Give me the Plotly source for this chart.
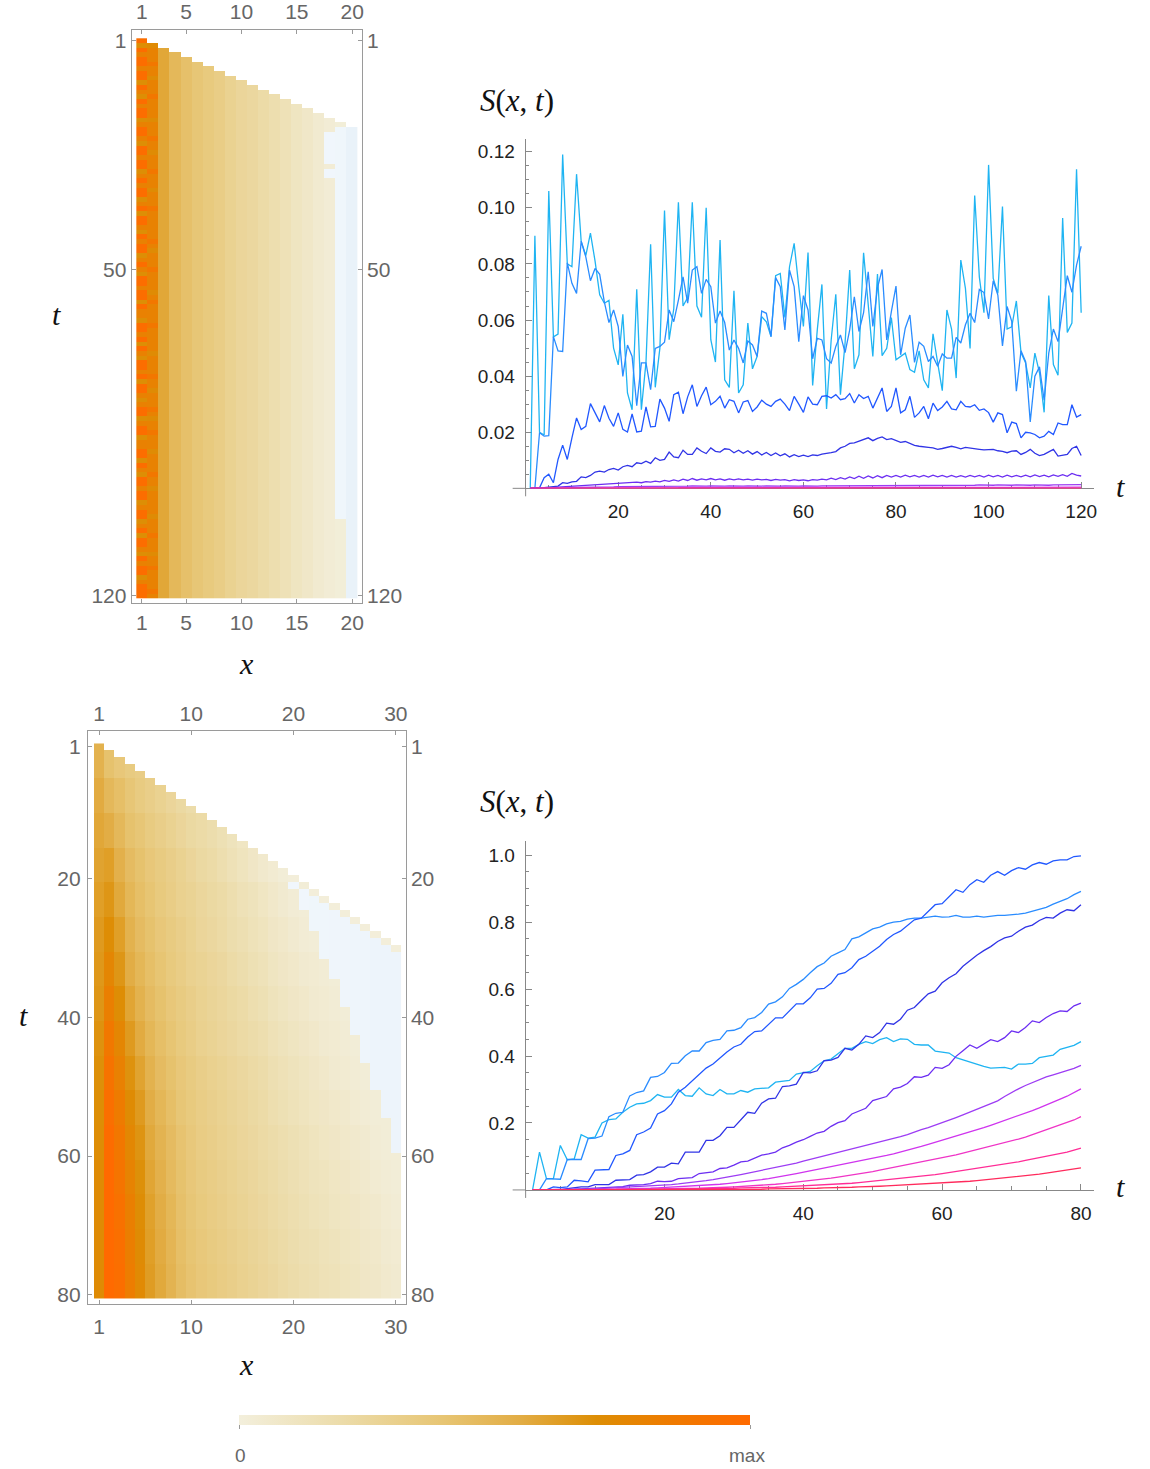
import plotly.graph_objects as go

W, H = 1150, 1469


def fx(p):
    return p / W


def fy(p):
    return 1 - p / H


# ------------------------------------------------------------------ data
# Heatmap 1 : x = 1..20, t = 1..120
HM1_X = list(range(1, 21))
HM1_T = list(range(1, 121))
HM1_FIRST_ROW = [1, 2, 3, 4, 5, 6, 7, 8, 9, 10, 11, 12, 13, 14, 15, 16, 17, 18, 19, 20]
HM1_LEVEL = [None, None, 0.58, 0.48, 0.43, 0.39, 0.36, 0.33, 0.29, 0.26,
             0.24, 0.21, 0.18, 0.15, 0.11, 0.08, 0.05, 0.03, 0.015, 0.01]
HM1_COL1 = ("ogodoodoog" "odgodoogdo" "odgoodoogd" "odoogdogoo" "dgodoogdod" "goodoogodd"
            "goodogodgo" "odogoodgdo" "ogdoogddoo" "godgoodoog" "doogdogood" "godoogdooo")
HM1_COL1_VAL = {"o": 0.97, "d": 0.80, "g": 0.70}
HM1_COL2 = ("dgdddoddgd" "ddoddddgdd" "doddgdddod" "ddgdddoddd" "dddodgdddo" "ddddgdoddd"
            "dodddddgdd" "ddoddgdddo" "dgddodddgd" "dddoddgddd" "ddgdddoddd" "gddoddddod")
HM1_COL2_VAL = {"o": 0.88, "d": 0.79, "g": 0.72}
# (column, first t, last t, shade) of the pale blue cells
HM1_BLUE = [(18, 21, 27, 0.3), (18, 29, 30, 0.3), (19, 20, 103, 0.35), (20, 20, 120, 0.75)]

# Heatmap 2 : x = 1..30, t = 1..80 ; one list per column, one value per 5-row band
HM2_X = list(range(1, 31))
HM2_T = list(range(1, 81))
HM2_FIRST_ROW = [1, 2, 3, 4, 5, 6, 7, 8, 9, 10, 11, 12, 13, 14, 15,
                 16, 17, 18, 19, 20, 21, 22, 23, 24, 25, 26, 27, 28, 29, 30]
HM2_BAND_ROWS = 5
HM2_COLS = [
    [0.52, 0.56, 0.58, 0.60, 0.62, 0.64, 0.65, 0.66, 0.68, 0.69, 0.70, 0.71, 0.72, 0.72, 0.72, 0.72],
    [0.42, 0.48, 0.55, 0.62, 0.66, 0.71, 0.76, 0.81, 0.87, 0.92, 0.95, 0.98, 1.00, 1.00, 1.00, 1.00],
    [0.38, 0.44, 0.48, 0.53, 0.57, 0.62, 0.66, 0.71, 0.76, 0.80, 0.84, 0.88, 0.91, 0.93, 0.95, 0.96],
    [0.35, 0.39, 0.42, 0.46, 0.49, 0.52, 0.55, 0.59, 0.64, 0.68, 0.72, 0.75, 0.78, 0.81, 0.82, 0.83],
    [0.33, 0.35, 0.39, 0.42, 0.44, 0.46, 0.49, 0.52, 0.56, 0.60, 0.64, 0.67, 0.69, 0.71, 0.72, 0.73],
    [0.30, 0.32, 0.35, 0.38, 0.40, 0.42, 0.44, 0.46, 0.49, 0.52, 0.55, 0.57, 0.59, 0.61, 0.62, 0.63],
    [0.27, 0.29, 0.32, 0.35, 0.36, 0.38, 0.40, 0.42, 0.44, 0.46, 0.49, 0.51, 0.53, 0.55, 0.56, 0.57],
    [0.25, 0.26, 0.29, 0.32, 0.33, 0.35, 0.36, 0.38, 0.40, 0.42, 0.44, 0.46, 0.47, 0.49, 0.50, 0.51],
    [0.22, 0.23, 0.26, 0.29, 0.30, 0.32, 0.33, 0.35, 0.36, 0.38, 0.39, 0.41, 0.42, 0.43, 0.44, 0.45],
    [0.00, 0.20, 0.23, 0.26, 0.28, 0.29, 0.30, 0.32, 0.33, 0.35, 0.36, 0.37, 0.38, 0.39, 0.40, 0.41],
    [0.00, 0.00, 0.21, 0.23, 0.25, 0.26, 0.28, 0.29, 0.30, 0.32, 0.33, 0.34, 0.35, 0.36, 0.37, 0.38],
    [0.00, 0.00, 0.19, 0.21, 0.23, 0.24, 0.26, 0.27, 0.28, 0.30, 0.31, 0.32, 0.33, 0.34, 0.35, 0.36],
    [0.00, 0.00, 0.16, 0.18, 0.21, 0.22, 0.24, 0.25, 0.26, 0.28, 0.29, 0.30, 0.31, 0.32, 0.33, 0.34],
    [0.00, 0.00, 0.13, 0.15, 0.18, 0.19, 0.21, 0.23, 0.24, 0.26, 0.27, 0.28, 0.29, 0.30, 0.31, 0.32],
    [0.00, 0.00, 0.10, 0.12, 0.15, 0.17, 0.19, 0.21, 0.22, 0.24, 0.25, 0.26, 0.27, 0.28, 0.29, 0.30],
    [0.00, 0.00, 0.00, 0.09, 0.13, 0.14, 0.16, 0.18, 0.20, 0.22, 0.23, 0.24, 0.25, 0.26, 0.27, 0.28],
    [0.00, 0.00, 0.00, 0.06, 0.10, 0.12, 0.14, 0.16, 0.18, 0.20, 0.21, 0.22, 0.23, 0.24, 0.25, 0.26],
    [0.00, 0.00, 0.00, 0.04, 0.07, 0.09, 0.11, 0.13, 0.15, 0.17, 0.18, 0.20, 0.21, 0.22, 0.23, 0.24],
    [0.00, 0.00, 0.00, 0.02, 0.05, 0.07, 0.09, 0.11, 0.13, 0.15, 0.16, 0.18, 0.19, 0.20, 0.21, 0.22],
    [0.00, 0.00, 0.00, 0.01, 0.03, 0.05, 0.07, 0.09, 0.11, 0.13, 0.14, 0.16, 0.17, 0.18, 0.19, 0.20],
    [0.00, 0.00, 0.00, 0.00, 0.02, 0.03, 0.05, 0.07, 0.09, 0.11, 0.12, 0.14, 0.15, 0.16, 0.17, 0.18],
    [0.00, 0.00, 0.00, 0.00, 0.01, 0.02, 0.04, 0.05, 0.07, 0.09, 0.10, 0.12, 0.13, 0.14, 0.16, 0.17],
    [0.00, 0.00, 0.00, 0.00, 0.01, 0.01, 0.03, 0.04, 0.05, 0.07, 0.09, 0.10, 0.12, 0.13, 0.14, 0.15],
    [0.00, 0.00, 0.00, 0.00, 0.01, 0.01, 0.02, 0.03, 0.04, 0.05, 0.07, 0.09, 0.10, 0.11, 0.13, 0.14],
    [0.00, 0.00, 0.00, 0.00, 0.01, 0.01, 0.01, 0.02, 0.03, 0.04, 0.06, 0.07, 0.09, 0.10, 0.11, 0.12],
    [0.00, 0.00, 0.00, 0.00, 0.00, 0.01, 0.01, 0.01, 0.02, 0.03, 0.04, 0.06, 0.07, 0.09, 0.10, 0.11],
    [0.00, 0.00, 0.00, 0.00, 0.00, 0.01, 0.01, 0.01, 0.02, 0.02, 0.03, 0.05, 0.06, 0.07, 0.08, 0.09],
    [0.00, 0.00, 0.00, 0.00, 0.00, 0.01, 0.01, 0.01, 0.01, 0.02, 0.02, 0.03, 0.04, 0.06, 0.07, 0.08],
    [0.00, 0.00, 0.00, 0.00, 0.00, 0.01, 0.01, 0.01, 0.01, 0.01, 0.02, 0.02, 0.03, 0.04, 0.05, 0.06],
    [0.00, 0.00, 0.00, 0.00, 0.00, 0.01, 0.01, 0.01, 0.01, 0.01, 0.01, 0.02, 0.02, 0.03, 0.04, 0.05],
]
HM2_BLUE = [(20, 21, 21, 0.3), (21, 22, 24, 0.3), (22, 23, 27, 0.35), (23, 24, 31, 0.35),
            (24, 25, 34, 0.4), (25, 26, 38, 0.4), (26, 27, 42, 0.45), (27, 28, 46, 0.45),
            (28, 29, 50, 0.5), (29, 30, 54, 0.5), (30, 31, 59, 0.5)]

# Line chart 1 : S(x,t), t = 1..120, x = 1..10
C1_T = list(range(1, 121))
C1_S1 = [0.000, 0.090, 0.020, 0.019, 0.106, 0.054, 0.055, 0.119, 0.080, 0.079,
         0.112, 0.088, 0.083, 0.091, 0.081, 0.069, 0.066, 0.067, 0.050, 0.044,
         0.062, 0.034, 0.028, 0.071, 0.028, 0.045, 0.087, 0.036, 0.050, 0.099,
         0.053, 0.064, 0.102, 0.065, 0.068, 0.102, 0.065, 0.061, 0.100, 0.053,
         0.045, 0.0885, 0.0387, 0.0360, 0.0704, 0.0340, 0.0369, 0.0589, 0.0426, 0.0470,
         0.0612, 0.0594, 0.0541, 0.0758, 0.0766, 0.0609, 0.0790, 0.0873, 0.0719, 0.0577,
         0.0841, 0.0367, 0.0565, 0.0727, 0.0283, 0.0529, 0.0692, 0.0334, 0.0518, 0.0778,
         0.0426, 0.0476, 0.0840, 0.0660, 0.0470, 0.0764, 0.0473, 0.0499, 0.0609, 0.0458,
         0.0470, 0.0482, 0.0423, 0.0414, 0.0490, 0.0387, 0.0358, 0.0551, 0.0447, 0.0348,
         0.0636, 0.0568, 0.0393, 0.0814, 0.0713, 0.0499, 0.1044, 0.0754, 0.0626, 0.1153,
         0.0748, 0.0695, 0.1005, 0.0568, 0.0576, 0.0668, 0.0484, 0.0447, 0.0358, 0.0482,
         0.0412, 0.0271, 0.0687, 0.0441, 0.0403, 0.0964, 0.0556, 0.0589, 0.1137, 0.0626]
C1_S2 = [0.0, 0.0, 0.0198, 0.0186, 0.0188, 0.0541, 0.0490, 0.0488, 0.0804, 0.0731,
         0.0695, 0.0881, 0.0825, 0.0740, 0.0784, 0.0763, 0.0665, 0.0591, 0.0636, 0.0577,
         0.0399, 0.0511, 0.0470, 0.0295, 0.0447, 0.0447, 0.0352, 0.0499, 0.0506, 0.0521,
         0.0636, 0.0594, 0.0671, 0.0754, 0.0660, 0.0778, 0.0790, 0.0695, 0.0745, 0.0719,
         0.0589, 0.0632, 0.0591, 0.0493, 0.0529, 0.0499, 0.0447, 0.0525, 0.0511, 0.0470,
         0.0632, 0.0624, 0.0541, 0.0751, 0.0719, 0.0565, 0.0778, 0.0719, 0.0523, 0.0687,
         0.0636, 0.0462, 0.0535, 0.0529, 0.0462, 0.0447, 0.0506, 0.0547, 0.0484, 0.0565,
         0.0683, 0.0559, 0.0626, 0.0772, 0.0577, 0.0715, 0.0780, 0.0529, 0.0630, 0.0721,
         0.0476, 0.0571, 0.0618, 0.0449, 0.0521, 0.0506, 0.0452, 0.0470, 0.0435, 0.0479,
         0.0464, 0.0464, 0.0538, 0.0518, 0.0583, 0.0624, 0.0591, 0.0709, 0.0698, 0.0604,
         0.0740, 0.0689, 0.0508, 0.0648, 0.0595, 0.0346, 0.0490, 0.0452, 0.0237, 0.0400,
         0.0433, 0.0314, 0.0482, 0.0568, 0.0523, 0.0648, 0.0758, 0.0699, 0.0796, 0.0863]
C1_S3 = [0.0, 0.0, 0.0002, 0.0038, 0.0050, 0.0020, 0.0103, 0.0154, 0.0103, 0.0180,
         0.0251, 0.0210, 0.0221, 0.0302, 0.0270, 0.0237, 0.0295, 0.0250, 0.0221, 0.0269,
         0.0210, 0.0201, 0.0265, 0.0201, 0.0204, 0.0290, 0.0219, 0.0221, 0.0318, 0.0286,
         0.0239, 0.0334, 0.0343, 0.0266, 0.0326, 0.0369, 0.0292, 0.0330, 0.0361, 0.0298,
         0.0310, 0.0328, 0.0286, 0.0316, 0.0310, 0.0269, 0.0308, 0.0313, 0.0274, 0.0290,
         0.0314, 0.0300, 0.0292, 0.0310, 0.0318, 0.0300, 0.0277, 0.0328, 0.0300, 0.0271,
         0.0326, 0.0300, 0.0298, 0.0328, 0.0330, 0.0322, 0.0334, 0.0316, 0.0320, 0.0338,
         0.0304, 0.0334, 0.0320, 0.0328, 0.0286, 0.0320, 0.0358, 0.0274, 0.0292, 0.0358,
         0.0269, 0.0280, 0.0328, 0.0253, 0.0269, 0.0292, 0.0248, 0.0304, 0.0277, 0.0290,
         0.0310, 0.0283, 0.0280, 0.0310, 0.0292, 0.0290, 0.0298, 0.0278, 0.0283, 0.0270,
         0.0236, 0.0269, 0.0263, 0.0198, 0.0236, 0.0231, 0.0180, 0.0200, 0.0198, 0.0192,
         0.0180, 0.0186, 0.0203, 0.0192, 0.0233, 0.0227, 0.0227, 0.0298, 0.0254, 0.0263]
C1_S4 = [0.0, 0.0, 0.0, 0.0002, 0.0004, 0.0006, 0.0008, 0.0020, 0.0018, 0.0023,
         0.0025, 0.0041, 0.0038, 0.0046, 0.0058, 0.0061, 0.0058, 0.0067, 0.0071, 0.0065,
         0.0077, 0.0082, 0.0077, 0.0091, 0.0088, 0.0097, 0.0089, 0.0109, 0.0100, 0.0103,
         0.0129, 0.0112, 0.0109, 0.0136, 0.0121, 0.0121, 0.0144, 0.0132, 0.0124, 0.0144,
         0.0132, 0.0129, 0.0141, 0.0139, 0.0127, 0.0136, 0.0125, 0.0134, 0.0122, 0.0131,
         0.0119, 0.0128, 0.0117, 0.0126, 0.0116, 0.0123, 0.0112, 0.0120, 0.0113, 0.0118,
         0.0113, 0.0119, 0.0117, 0.0122, 0.0124, 0.0127, 0.0131, 0.0144, 0.0150, 0.0160,
         0.0162, 0.0168, 0.0172, 0.0180, 0.0170, 0.0178, 0.0183, 0.0174, 0.0177, 0.0170,
         0.0164, 0.0167, 0.0160, 0.0153, 0.0150, 0.0147, 0.0146, 0.0144, 0.0139, 0.0142,
         0.0145, 0.0150, 0.0146, 0.0141, 0.0146, 0.0143, 0.0140, 0.0139, 0.0137, 0.0138,
         0.0139, 0.0134, 0.0132, 0.0127, 0.0133, 0.0134, 0.0121, 0.0128, 0.0139, 0.0125,
         0.0117, 0.0121, 0.0130, 0.0139, 0.0115, 0.0118, 0.0121, 0.0142, 0.0150, 0.0117]
C1_S5 = [0.0, 0.0, 0.0, 0.0, 0.0001, 0.0002, 0.0004, 0.0005, 0.0007, 0.0008,
         0.0009, 0.0010, 0.0011, 0.0012, 0.0013, 0.0014, 0.0013, 0.0016, 0.0015, 0.0018,
         0.0017, 0.0020, 0.0019, 0.0022, 0.0020, 0.0024, 0.0022, 0.0026, 0.0023, 0.0028,
         0.0025, 0.0030, 0.0026, 0.0033, 0.0028, 0.0035, 0.0029, 0.0034, 0.0030, 0.0035,
         0.0030, 0.0034, 0.0029, 0.0034, 0.0030, 0.0034, 0.0030, 0.0033, 0.0029, 0.0033,
         0.0030, 0.0032, 0.0028, 0.0032, 0.0029, 0.0031, 0.0027, 0.0031, 0.0028, 0.0030,
         0.0027, 0.0031, 0.0029, 0.0033, 0.0030, 0.0036, 0.0031, 0.0038, 0.0033, 0.0041,
         0.0035, 0.0043, 0.0036, 0.0044, 0.0037, 0.0045, 0.0038, 0.0046, 0.0040, 0.0046,
         0.0040, 0.0047, 0.0041, 0.0046, 0.0040, 0.0046, 0.0040, 0.0047, 0.0041, 0.0046,
         0.0040, 0.0046, 0.0040, 0.0045, 0.0040, 0.0046, 0.0041, 0.0046, 0.0040, 0.0047,
         0.0041, 0.0046, 0.0040, 0.0047, 0.0041, 0.0046, 0.0041, 0.0047, 0.0041, 0.0048,
         0.0042, 0.0047, 0.0041, 0.0048, 0.0043, 0.0049, 0.0043, 0.0053, 0.0047, 0.0044]
C1_S6 = [0, 0, 0, 0, 0, 0, 0.0001, 0.0001, 0.0002, 0.0002,
         0.0003, 0.0003, 0.0003, 0.0004, 0.0004, 0.0004, 0.0005, 0.0005, 0.0005, 0.0006,
         0.0006, 0.0006, 0.0006, 0.0007, 0.0006, 0.0007, 0.0007, 0.0007, 0.0007, 0.0008,
         0.0007, 0.0008, 0.0007, 0.0008, 0.0008, 0.0009, 0.0008, 0.0009, 0.0008, 0.0009,
         0.0008, 0.0009, 0.0008, 0.0009, 0.0008, 0.0009, 0.0008, 0.0009, 0.0008, 0.0009,
         0.0008, 0.0009, 0.0008, 0.0008, 0.0008, 0.0009, 0.0008, 0.0008, 0.0008, 0.0009,
         0.0008, 0.0009, 0.0008, 0.0009, 0.0009, 0.0010, 0.0009, 0.0010, 0.0009, 0.0010,
         0.0010, 0.0011, 0.0010, 0.0011, 0.0010, 0.0011, 0.0010, 0.0011, 0.0010, 0.0011,
         0.0010, 0.0011, 0.0010, 0.0011, 0.0010, 0.0011, 0.0010, 0.0011, 0.0010, 0.0011,
         0.0010, 0.0011, 0.0010, 0.0011, 0.0010, 0.0011, 0.0011, 0.0012, 0.0011, 0.0012,
         0.0011, 0.0012, 0.0011, 0.0012, 0.0011, 0.0012, 0.0011, 0.0012, 0.0011, 0.0012,
         0.0011, 0.0012, 0.0011, 0.0012, 0.0012, 0.0013, 0.0012, 0.0013, 0.0012, 0.0013]
C1_S7 = [0, 0, 0, 0, 0, 0, 0, 0, 0, 0,
         0, 0, 0.0001, 0.0001, 0.0001, 0.0001, 0.0001, 0.0001, 0.0001, 0.0001,
         0.0001, 0.0001, 0.0002, 0.0001, 0.0002, 0.0002, 0.0002, 0.0002, 0.0002, 0.0002,
         0.0002, 0.0002, 0.0002, 0.0003, 0.0002, 0.0003, 0.0002, 0.0003, 0.0002, 0.0003,
         0.0002, 0.0003, 0.0002, 0.0003, 0.0002, 0.0003, 0.0002, 0.0003, 0.0002, 0.0003,
         0.0002, 0.0003, 0.0002, 0.0003, 0.0002, 0.0003, 0.0002, 0.0003, 0.0002, 0.0003,
         0.0003, 0.0003, 0.0003, 0.0003, 0.0003, 0.0003, 0.0003, 0.0003, 0.0003, 0.0003,
         0.0003, 0.0004, 0.0003, 0.0004, 0.0003, 0.0004, 0.0003, 0.0004, 0.0003, 0.0004,
         0.0003, 0.0004, 0.0003, 0.0004, 0.0003, 0.0004, 0.0003, 0.0004, 0.0003, 0.0004,
         0.0003, 0.0004, 0.0003, 0.0004, 0.0003, 0.0004, 0.0003, 0.0004, 0.0003, 0.0004,
         0.0003, 0.0004, 0.0003, 0.0004, 0.0003, 0.0004, 0.0003, 0.0004, 0.0003, 0.0004,
         0.0003, 0.0004, 0.0003, 0.0004, 0.0003, 0.0004, 0.0003, 0.0004, 0.0003, 0.0004]
C1_S8 = [0, 0, 0, 0, 0, 0, 0, 0, 0, 0,
         0, 0, 0, 0, 0, 0, 0, 0, 0, 0,
         0, 0, 0, 0, 0, 0, 0, 0, 0, 0,
         0, 0.0001, 0, 0.0001, 0, 0.0001, 0, 0.0001, 0, 0.0001,
         0, 0.0001, 0, 0.0001, 0, 0.0001, 0, 0.0001, 0, 0.0001,
         0.0001, 0.0001, 0.0001, 0.0001, 0.0001, 0.0001, 0.0001, 0.0001, 0.0001, 0.0001,
         0.0001, 0.0001, 0.0001, 0.0001, 0.0001, 0.0001, 0.0001, 0.0001, 0.0001, 0.0001,
         0.0001, 0.0001, 0.0001, 0.0001, 0.0001, 0.0001, 0.0001, 0.0001, 0.0001, 0.0001,
         0.0001, 0.0001, 0.0001, 0.0001, 0.0001, 0.0001, 0.0001, 0.0001, 0.0001, 0.0001,
         0.0001, 0.0001, 0.0001, 0.0001, 0.0001, 0.0001, 0.0001, 0.0001, 0.0001, 0.0001,
         0.0001, 0.0001, 0.0001, 0.0001, 0.0001, 0.0001, 0.0001, 0.0001, 0.0001, 0.0001,
         0.0001, 0.0001, 0.0001, 0.0001, 0.0001, 0.0001, 0.0001, 0.0001, 0.0001, 0.0001]
C1_S9 = [0, 0, 0, 0, 0, 0, 0, 0, 0, 0, 0, 0, 0, 0, 0, 0, 0, 0, 0, 0,
         0, 0, 0, 0, 0, 0, 0, 0, 0, 0, 0, 0, 0, 0, 0, 0, 0, 0, 0, 0,
         0, 0, 0, 0, 0, 0, 0, 0, 0, 0, 0, 0, 0, 0, 0, 0, 0, 0, 0, 0,
         0, 0, 0, 0, 0, 0, 0, 0, 0, 0, 0, 0, 0, 0, 0, 0, 0, 0, 0, 0,
         0, 0, 0, 0, 0, 0, 0, 0, 0, 0, 0, 0, 0, 0, 0, 0, 0, 0, 0, 0,
         0, 0, 0, 0, 0, 0, 0, 0, 0, 0, 0, 0, 0, 0, 0, 0, 0, 0, 0, 0]
C1_S10 = [0, 0, 0, 0, 0, 0, 0, 0, 0, 0, 0, 0, 0, 0, 0, 0, 0, 0, 0, 0,
          0, 0, 0, 0, 0, 0, 0, 0, 0, 0, 0, 0, 0, 0, 0, 0, 0, 0, 0, 0,
          0, 0, 0, 0, 0, 0, 0, 0, 0, 0, 0, 0, 0, 0, 0, 0, 0, 0, 0, 0,
          0, 0, 0, 0, 0, 0, 0, 0, 0, 0, 0, 0, 0, 0, 0, 0, 0, 0, 0, 0,
          0, 0, 0, 0, 0, 0, 0, 0, 0, 0, 0, 0, 0, 0, 0, 0, 0, 0, 0, 0,
          0, 0, 0, 0, 0, 0, 0, 0, 0, 0, 0, 0, 0, 0, 0, 0, 0, 0, 0, 0]

# Line chart 2 : S(x,t), t = 1..80, x = 1..10
C2_T = list(range(1, 81))
C2_S1 = [0, 0.113, 0.034, 0.034, 0.133, 0.090, 0.093, 0.165, 0.155, 0.158,
         0.200, 0.210, 0.212, 0.232, 0.247, 0.257, 0.259, 0.267, 0.285, 0.277,
         0.277, 0.300, 0.282, 0.280, 0.305, 0.287, 0.282, 0.300, 0.287, 0.287,
         0.297, 0.292, 0.302, 0.304, 0.305, 0.322, 0.324, 0.327, 0.346, 0.351,
         0.354, 0.371, 0.386, 0.391, 0.408, 0.423, 0.423, 0.435, 0.443, 0.437,
         0.449, 0.455, 0.443, 0.451, 0.450, 0.435, 0.433, 0.433, 0.415, 0.412,
         0.409, 0.395, 0.388, 0.383, 0.374, 0.369, 0.364, 0.366, 0.366, 0.361,
         0.376, 0.376, 0.378, 0.395, 0.398, 0.403, 0.420, 0.425, 0.432, 0.443]
C2_S2 = [0, 0, 0.034, 0.032, 0.032, 0.091, 0.091, 0.091, 0.153, 0.155,
         0.161, 0.219, 0.229, 0.232, 0.281, 0.291, 0.296, 0.336, 0.339, 0.351,
         0.378, 0.379, 0.401, 0.415, 0.415, 0.440, 0.447, 0.450, 0.475, 0.477,
         0.485, 0.510, 0.515, 0.530, 0.555, 0.562, 0.577, 0.602, 0.614, 0.629,
         0.649, 0.667, 0.678, 0.698, 0.708, 0.718, 0.750, 0.756, 0.768, 0.780,
         0.785, 0.795, 0.800, 0.802, 0.809, 0.812, 0.812, 0.815, 0.818, 0.815,
         0.816, 0.820, 0.815, 0.815, 0.818, 0.815, 0.818, 0.820, 0.820, 0.821,
         0.824, 0.827, 0.833, 0.839, 0.844, 0.854, 0.862, 0.870, 0.882, 0.892]
C2_S3 = [0, 0, 0, 0.009, 0.007, 0.009, 0.029, 0.027, 0.024, 0.059,
         0.059, 0.061, 0.103, 0.108, 0.118, 0.165, 0.173, 0.185, 0.227, 0.237,
         0.257, 0.292, 0.307, 0.326, 0.346, 0.364, 0.376, 0.394, 0.412, 0.427,
         0.435, 0.457, 0.473, 0.475, 0.494, 0.514, 0.514, 0.534, 0.556, 0.556,
         0.574, 0.600, 0.602, 0.617, 0.644, 0.649, 0.664, 0.688, 0.698, 0.713,
         0.728, 0.748, 0.763, 0.773, 0.791, 0.807, 0.812, 0.832, 0.852, 0.855,
         0.877, 0.897, 0.889, 0.912, 0.927, 0.919, 0.940, 0.951, 0.940, 0.954,
         0.963, 0.958, 0.971, 0.978, 0.973, 0.983, 0.986, 0.986, 0.996, 0.998]
C2_S4 = [0, 0, 0, 0, 0, 0.004, 0.007, 0.009, 0.009, 0.016,
         0.016, 0.016, 0.029, 0.029, 0.031, 0.044, 0.046, 0.054, 0.068, 0.068,
         0.080, 0.078, 0.113, 0.113, 0.113, 0.148, 0.148, 0.162, 0.187, 0.187,
         0.209, 0.232, 0.229, 0.259, 0.272, 0.274, 0.309, 0.311, 0.316, 0.351,
         0.350, 0.356, 0.386, 0.388, 0.396, 0.423, 0.418, 0.435, 0.460, 0.455,
         0.470, 0.498, 0.495, 0.510, 0.537, 0.545, 0.566, 0.586, 0.594, 0.619,
         0.634, 0.646, 0.668, 0.685, 0.701, 0.715, 0.727, 0.742, 0.753, 0.758,
         0.773, 0.785, 0.791, 0.805, 0.814, 0.812, 0.827, 0.837, 0.834, 0.852]
C2_S5 = [0, 0, 0, 0, 0, 0, 0.002, 0.003, 0.004, 0.004,
         0.006, 0.008, 0.009, 0.010, 0.014, 0.014, 0.016, 0.019, 0.026, 0.025,
         0.026, 0.034, 0.036, 0.037, 0.049, 0.052, 0.054, 0.064, 0.066, 0.074,
         0.084, 0.086, 0.094, 0.104, 0.108, 0.113, 0.126, 0.133, 0.143, 0.150,
         0.160, 0.170, 0.175, 0.190, 0.201, 0.207, 0.227, 0.235, 0.244, 0.267,
         0.272, 0.279, 0.302, 0.307, 0.318, 0.338, 0.336, 0.343, 0.366, 0.363,
         0.374, 0.399, 0.416, 0.433, 0.423, 0.435, 0.449, 0.443, 0.455, 0.475,
         0.470, 0.485, 0.505, 0.500, 0.515, 0.527, 0.535, 0.533, 0.550, 0.558]
C2_S6 = [0, 0, 0, 0, 0, 0, 0.001, 0.002, 0.002, 0.003,
         0.004, 0.005, 0.006, 0.007, 0.008, 0.009, 0.010, 0.011, 0.013, 0.014,
         0.016, 0.018, 0.020, 0.022, 0.025, 0.028, 0.031, 0.034, 0.038, 0.042,
         0.046, 0.050, 0.054, 0.058, 0.062, 0.066, 0.070, 0.075, 0.080, 0.086,
         0.092, 0.097, 0.102, 0.107, 0.112, 0.118, 0.123, 0.128, 0.133, 0.137,
         0.142, 0.147, 0.152, 0.159, 0.165, 0.173, 0.180, 0.186, 0.193, 0.201,
         0.208, 0.216, 0.224, 0.232, 0.240, 0.248, 0.257, 0.266, 0.279, 0.291,
         0.302, 0.312, 0.321, 0.329, 0.338, 0.344, 0.350, 0.357, 0.363, 0.372]
C2_S7 = [0, 0, 0, 0, 0, 0, 0, 0, 0.001, 0.001,
         0.001, 0.002, 0.002, 0.003, 0.003, 0.004, 0.004, 0.005, 0.006, 0.007,
         0.008, 0.009, 0.010, 0.011, 0.012, 0.014, 0.015, 0.017, 0.019, 0.021,
         0.023, 0.025, 0.028, 0.031, 0.034, 0.037, 0.041, 0.045, 0.049, 0.053,
         0.057, 0.061, 0.065, 0.069, 0.073, 0.077, 0.081, 0.085, 0.089, 0.094,
         0.098, 0.103, 0.108, 0.113, 0.118, 0.124, 0.130, 0.136, 0.142, 0.148,
         0.154, 0.160, 0.166, 0.172, 0.179, 0.186, 0.193, 0.200, 0.207, 0.214,
         0.221, 0.229, 0.237, 0.245, 0.253, 0.262, 0.271, 0.280, 0.290, 0.302]
C2_S8 = [0, 0, 0, 0, 0, 0, 0, 0, 0, 0,
         0, 0.001, 0.001, 0.001, 0.001, 0.002, 0.002, 0.002, 0.003, 0.003,
         0.003, 0.004, 0.004, 0.005, 0.005, 0.006, 0.006, 0.007, 0.008, 0.009,
         0.010, 0.011, 0.012, 0.014, 0.015, 0.017, 0.019, 0.021, 0.023, 0.025,
         0.027, 0.029, 0.032, 0.035, 0.038, 0.041, 0.044, 0.047, 0.051, 0.055,
         0.059, 0.063, 0.067, 0.071, 0.075, 0.079, 0.083, 0.087, 0.091, 0.095,
         0.100, 0.105, 0.110, 0.115, 0.120, 0.125, 0.130, 0.135, 0.140, 0.146,
         0.152, 0.158, 0.165, 0.172, 0.179, 0.186, 0.193, 0.201, 0.209, 0.219]
C2_S9 = [0, 0, 0, 0, 0, 0, 0, 0, 0, 0,
         0, 0, 0, 0, 0.001, 0.001, 0.001, 0.001, 0.001, 0.002,
         0.002, 0.002, 0.002, 0.003, 0.003, 0.003, 0.004, 0.004, 0.005, 0.005,
         0.006, 0.006, 0.007, 0.007, 0.008, 0.008, 0.009, 0.010, 0.010, 0.011,
         0.012, 0.013, 0.014, 0.016, 0.017, 0.019, 0.020, 0.022, 0.024, 0.026,
         0.028, 0.030, 0.032, 0.034, 0.036, 0.038, 0.040, 0.043, 0.046, 0.049,
         0.052, 0.055, 0.058, 0.061, 0.064, 0.067, 0.070, 0.073, 0.076, 0.080,
         0.084, 0.088, 0.092, 0.096, 0.100, 0.104, 0.108, 0.113, 0.119, 0.125]
C2_S10 = [0, 0, 0, 0, 0, 0, 0, 0, 0, 0,
          0, 0, 0, 0, 0, 0, 0, 0, 0, 0,
          0, 0, 0, 0, 0, 0.001, 0.001, 0.001, 0.001, 0.001,
          0.002, 0.002, 0.002, 0.002, 0.003, 0.003, 0.003, 0.003, 0.004, 0.004,
          0.005, 0.005, 0.006, 0.006, 0.007, 0.007, 0.008, 0.009, 0.009, 0.010,
          0.011, 0.012, 0.013, 0.014, 0.015, 0.016, 0.017, 0.018, 0.019, 0.020,
          0.022, 0.023, 0.025, 0.026, 0.028, 0.030, 0.031, 0.033, 0.035, 0.037,
          0.039, 0.042, 0.044, 0.047, 0.050, 0.053, 0.056, 0.059, 0.062, 0.066]

C1_SERIES = [C1_S1, C1_S2, C1_S3, C1_S4, C1_S5, C1_S6, C1_S7, C1_S8, C1_S9, C1_S10]
C2_SERIES = [C2_S1, C2_S2, C2_S3, C2_S4, C2_S5, C2_S6, C2_S7, C2_S8, C2_S9, C2_S10]

HM1_XTICKS = [1, 5, 10, 15, 20]
HM1_YTICKS = [1, 50, 120]
HM2_XTICKS = [1, 10, 20, 30]
HM2_YTICKS = [1, 20, 40, 60, 80]
C1_XTICKS = [20, 40, 60, 80, 100, 120]
C1_YTICKS = [0.02, 0.04, 0.06, 0.08, 0.10, 0.12]
C2_XTICKS = [20, 40, 60, 80]
C2_YTICKS = [0.2, 0.4, 0.6, 0.8, 1.0]
CBAR_TICKS = [0, 1]
CBAR_LABELS = ['0', 'max']

# ------------------------------------------------------------------ styles
LINE_COLORS = ['#1fb4f2', '#2a8cff', '#2158ff', '#3034e6', '#6c2ef2',
               '#9d3cf4', '#cf34ee', '#ef34c6', '#ff2c96', '#ff2a5c']
HEAT_SCALE = [[0.0, '#f3efdc'], [0.2, '#ecdcaa'], [0.4, '#e7c573'], [0.55, '#e2ad45'],
              [0.7, '#dd8e05'], [0.85, '#ef7a00'], [1.0, '#ff6a00']]
BLUE_SCALE = [[0.0, '#f5f9fd'], [1.0, '#e5eff8']]
SANS = 'Liberation Sans, Arial, sans-serif'
SERIF = 'Liberation Serif, Times New Roman, serif'
FRAME = '#9a9a9a'
TICKLAB = '#666666'

# ------------------------------------------------------------------ build matrices
z1 = []
for t in HM1_T:
    row = []
    for x in HM1_X:
        if t < HM1_FIRST_ROW[x - 1]:
            row.append(None)
        elif x == 1:
            row.append(HM1_COL1_VAL[HM1_COL1[t - 1]])
        elif x == 2:
            row.append(HM1_COL2_VAL[HM1_COL2[t - 1]])
        else:
            row.append(HM1_LEVEL[x - 1])
    z1.append(row)
zb1 = [[None for _ in HM1_X] for _ in HM1_T]
for (x, ta, tb, d) in HM1_BLUE:
    for t in range(ta, tb + 1):
        zb1[t - 1][x - 1] = d
        z1[t - 1][x - 1] = None

z2 = []
for t in HM2_T:
    b = (t - 1) // HM2_BAND_ROWS
    z2.append([HM2_COLS[x - 1][b] if t >= HM2_FIRST_ROW[x - 1] else None for x in HM2_X])
zb2 = [[None for _ in HM2_X] for _ in HM2_T]
for (x, ta, tb, d) in HM2_BLUE:
    for t in range(ta, tb + 1):
        zb2[t - 1][x - 1] = d
        z2[t - 1][x - 1] = None

# ------------------------------------------------------------------ figure
fig = go.Figure()

fig.add_trace(go.Heatmap(x=HM1_X, y=HM1_T, z=z1, coloraxis='coloraxis',
                         xaxis='x', yaxis='y', hoverinfo='skip'))
fig.add_trace(go.Heatmap(x=HM1_X, y=HM1_T, z=zb1, colorscale=BLUE_SCALE, zmin=0, zmax=1,
                         showscale=False, xaxis='x', yaxis='y', hoverinfo='skip'))
fig.add_trace(go.Scatter(x=[10], y=[60], xaxis='x2', yaxis='y2', mode='markers',
                         marker=dict(opacity=0), showlegend=False, hoverinfo='skip'))

fig.add_trace(go.Heatmap(x=HM2_X, y=HM2_T, z=z2, coloraxis='coloraxis',
                         xaxis='x3', yaxis='y3', hoverinfo='skip'))
fig.add_trace(go.Heatmap(x=HM2_X, y=HM2_T, z=zb2, colorscale=BLUE_SCALE, zmin=0, zmax=1,
                         showscale=False, xaxis='x3', yaxis='y3', hoverinfo='skip'))
fig.add_trace(go.Scatter(x=[10], y=[40], xaxis='x4', yaxis='y4', mode='markers',
                         marker=dict(opacity=0), showlegend=False, hoverinfo='skip'))

for s, c in zip(C1_SERIES, LINE_COLORS):
    fig.add_trace(go.Scatter(x=C1_T, y=s, mode='lines', line=dict(color=c, width=1.3),
                             xaxis='x5', yaxis='y5', showlegend=False, hoverinfo='skip'))
for s, c in zip(C2_SERIES, LINE_COLORS):
    fig.add_trace(go.Scatter(x=C2_T, y=s, mode='lines', line=dict(color=c, width=1.3),
                             xaxis='x6', yaxis='y6', showlegend=False, hoverinfo='skip'))


def heat_axis(dom, rng, ticks, side, overlay=None, anchor=None, standoff=4):
    d = dict(range=rng, tickmode='array', tickvals=ticks, ticks='inside', ticklen=4,
             tickcolor=FRAME, tickwidth=1, showgrid=False, zeroline=False,
             tickfont=dict(family=SANS, size=21, color=TICKLAB), side=side,
             ticklabelstandoff=standoff)
    if overlay is None:
        d.update(domain=dom, showline=True, linecolor=FRAME, linewidth=1, mirror=True,
                 anchor=anchor)
    else:
        d.update(overlaying=overlay, showline=False, anchor=anchor)
    return d


def line_axis(dom, rng, ticks, minor_dt, anchor, fmt=None, side='bottom', standoff=6):
    d = dict(domain=dom, range=rng, tickmode='array', tickvals=ticks, ticks='inside',
             ticklen=6, tickcolor='#888888', tickwidth=1, showgrid=False, zeroline=False,
             showline=True, linecolor='#888888', linewidth=1, anchor=anchor, side=side,
             layer='below traces', ticklabelstandoff=standoff,
             tickfont=dict(family=SANS, size=19, color='#222222'),
             minor=dict(dtick=minor_dt, tick0=0, ticks='inside', ticklen=3.5,
                        tickcolor='#888888', showgrid=False))
    if fmt:
        d['tickformat'] = fmt
    return d


hm1_xr = [0.077, 20.89]
hm1_yr = [121.57, -1.3]
hm2_xr = [-0.11, 30.99]
hm2_yr = [81.26, -1.37]

layout = dict(
    width=W, height=H, margin=dict(l=0, r=0, t=0, b=0),
    paper_bgcolor='white', plot_bgcolor='rgba(0,0,0,0)', hovermode=False,
    showlegend=False,
    xaxis=heat_axis([fx(132), fx(363)], hm1_xr, HM1_XTICKS, 'bottom', anchor='y', standoff=1),
    xaxis2=heat_axis(None, hm1_xr, HM1_XTICKS, 'top', overlay='x', anchor='y', standoff=6),
    yaxis=heat_axis([fy(604), fy(29)], hm1_yr, HM1_YTICKS, 'left', anchor='x', standoff=0),
    yaxis2=heat_axis(None, hm1_yr, HM1_YTICKS, 'right', overlay='y', anchor='x', standoff=4),
    xaxis3=heat_axis([fx(88), fx(407)], hm2_xr, HM2_XTICKS, 'bottom', anchor='y3', standoff=4),
    xaxis4=heat_axis(None, hm2_xr, HM2_XTICKS, 'top', overlay='x3', anchor='y3', standoff=4),
    yaxis3=heat_axis([fy(1307), fy(732)], hm2_yr, HM2_YTICKS, 'left', anchor='x3', standoff=2),
    yaxis4=heat_axis(None, hm2_yr, HM2_YTICKS, 'right', overlay='y3', anchor='x3', standoff=4),
    xaxis5=line_axis([fx(527), fx(1097)], [0, 122.8], C1_XTICKS, 5, 'y5'),
    yaxis5=line_axis([fy(489), fy(138)], [0, 0.1247], C1_YTICKS, 0.005, 'x5', fmt='.2f',
                     side='left'),
    xaxis6=line_axis([fx(527), fx(1097)], [0, 81.9], C2_XTICKS, 5, 'y6'),
    yaxis6=line_axis([fy(1193), fy(843)], [0, 1.042], C2_YTICKS, 0.05, 'x6', fmt='.1f',
                     side='left'),
    coloraxis=dict(
        colorscale=HEAT_SCALE, cmin=0, cmax=1,
        colorbar=dict(orientation='h', x=fx((240 + 752) / 2), xanchor='center',
                      y=fy(1419), yanchor='top', len=512 / W, lenmode='fraction',
                      thickness=10, thicknessmode='pixels', outlinewidth=0,
                      xpad=0, ypad=0, tickmode='array', tickvals=CBAR_TICKS,
                      ticks='outside', ticklen=4, tickcolor=FRAME, showticklabels=False)),
)
fig.update_layout(**layout)

# axis stubs (Mathematica-style crossing axes)
shapes = []
for yb, ytop in [(489, 497), (1193, 1201)]:
    shapes.append(dict(type='line', xref='paper', yref='paper', x0=fx(514), x1=fx(527),
                       y0=fy(yb), y1=fy(yb), line=dict(color='#888888', width=1)))
    shapes.append(dict(type='line', xref='paper', yref='paper', x0=fx(527), x1=fx(527),
                       y0=fy(yb), y1=fy(ytop), line=dict(color='#888888', width=1)))
fig.update_layout(shapes=shapes)

ann = []


def label(text, x, y, size=30, family=SERIF, color='#111111', xanchor='center'):
    ann.append(dict(text=text, x=fx(x), y=fy(y), xref='paper', yref='paper',
                    showarrow=False, xanchor=xanchor, yanchor='middle',
                    font=dict(family=family, size=size, color=color)))


label('<i>S</i>(<i>x</i>, <i>t</i>)', 479, 100, size=31, xanchor='left')
label('<i>S</i>(<i>x</i>, <i>t</i>)', 479, 803, size=31, xanchor='left')
label('<i>t</i>', 1123, 487)
label('<i>t</i>', 1123, 1190)
label('<i>t</i>', 57, 315)
label('<i>t</i>', 24, 1018)
label('<i>x</i>', 247, 665)
label('<i>x</i>', 247, 1368)
# colour-bar end labels
cb_x0, cb_x1 = 241, 749
for v, txt in zip(CBAR_TICKS, CBAR_LABELS):
    label(txt, cb_x0 + v * (cb_x1 - cb_x0), 1459, size=19, family=SANS, color=TICKLAB)
fig.update_layout(annotations=ann)

fig.write_html("out.html", config={'displayModeBar': False},
               post_script="document.body.style.margin='0';")
